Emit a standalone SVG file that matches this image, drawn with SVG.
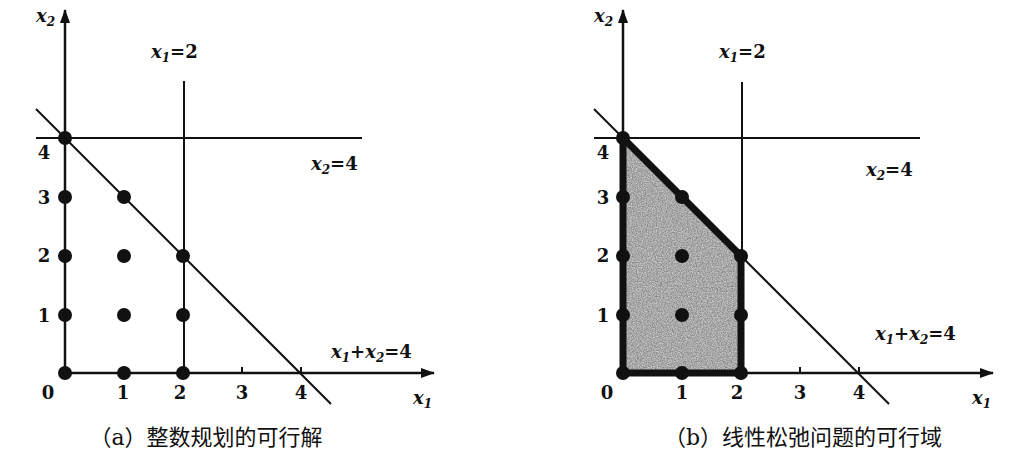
<svg xmlns="http://www.w3.org/2000/svg" width="1024" height="456" viewBox="0 0 1024 456">
<defs>
<marker id="arr" markerWidth="14" markerHeight="10" refX="13" refY="5" orient="auto" markerUnits="userSpaceOnUse">
<path d="M0,0 L14,5 L0,10 Z" fill="#111"/>
</marker>
<filter id="grain" x="0" y="0" width="1" height="1"><feTurbulence type="fractalNoise" baseFrequency="0.8" numOctaves="2" seed="3" result="n"/><feColorMatrix in="n" type="matrix" values="0 0 0 0 0  0 0 0 0 0  0 0 0 0 0  0 0 0 0.6 -0.1" result="a"/><feComposite in="a" in2="SourceGraphic" operator="in"/></filter>
</defs>
<style>
.ln{stroke:#111;stroke-width:2;fill:none}
.ax{stroke:#111;stroke-width:2.5;fill:none}
.dot{fill:#111}
.var{font-family:"DejaVu Serif","Liberation Serif",serif;font-style:italic;font-weight:bold;font-size:18px;fill:#111}
.eq{font-style:normal}
.sub{font-size:12px}
.num{font-family:"DejaVu Serif","Liberation Serif",serif;font-weight:bold;font-size:18px;fill:#111}
.cap{font-family:"DejaVu Serif","Noto Sans CJK SC",serif;font-size:22px;fill:#111}
</style>
<rect width="1024" height="456" fill="#fff"/>
<g id="connectors">
<line class="ax" x1="65" y1="373" x2="65" y2="10" marker-end="url(#arr)"/>
<line class="ax" x1="65" y1="373" x2="434" y2="373" marker-end="url(#arr)"/>
<line class="ln" x1="36" y1="138" x2="362" y2="138"/>
<line class="ln" x1="184" y1="81" x2="184" y2="373"/>
<line class="ln" x1="36" y1="109" x2="331" y2="404"/>
<line class="ln" x1="242" y1="373" x2="242" y2="367"/>
<line class="ln" x1="301" y1="373" x2="301" y2="367"/>
<polygon points="623,138 741,256 741,373 623,373" fill="#d2d2d2"/>
<polygon points="623,138 741,256 741,373 623,373" fill="#888" filter="url(#grain)"/>
<line class="ax" x1="623" y1="373" x2="623" y2="10" marker-end="url(#arr)"/>
<line class="ax" x1="623" y1="373" x2="993" y2="373" marker-end="url(#arr)"/>
<line class="ln" x1="594" y1="138" x2="920" y2="138"/>
<line class="ln" x1="742" y1="82" x2="742" y2="373"/>
<line class="ln" x1="594" y1="109" x2="889" y2="404"/>
<line class="ln" x1="800" y1="373" x2="800" y2="367"/>
<line class="ln" x1="859" y1="373" x2="859" y2="367"/>
<polygon points="623,138 741,256 741,373 623,373" fill="none" stroke="#111" stroke-width="7" stroke-linejoin="round"/>
</g>
<g id="dots-a">
<circle class="dot" cx="65" cy="138" r="7"/>
<circle class="dot" cx="65" cy="197" r="7"/><circle class="dot" cx="124" cy="197" r="7"/>
<circle class="dot" cx="65" cy="256" r="7"/><circle class="dot" cx="124" cy="256" r="7"/><circle class="dot" cx="183" cy="256" r="7"/>
<circle class="dot" cx="65" cy="315" r="7"/><circle class="dot" cx="124" cy="315" r="7"/><circle class="dot" cx="183" cy="315" r="7"/>
<circle class="dot" cx="65" cy="373" r="7"/><circle class="dot" cx="124" cy="373" r="7"/><circle class="dot" cx="183" cy="373" r="7"/>
</g>
<g id="dots-b">
<circle class="dot" cx="623" cy="138" r="7"/>
<circle class="dot" cx="623" cy="197" r="7"/><circle class="dot" cx="682" cy="197" r="7"/>
<circle class="dot" cx="623" cy="256" r="7"/><circle class="dot" cx="682" cy="256" r="7"/><circle class="dot" cx="741" cy="256" r="7"/>
<circle class="dot" cx="623" cy="315" r="7"/><circle class="dot" cx="682" cy="315" r="7"/><circle class="dot" cx="741" cy="315" r="7"/>
<circle class="dot" cx="623" cy="373" r="7"/><circle class="dot" cx="682" cy="373" r="7"/><circle class="dot" cx="741" cy="373" r="7"/>
</g>
<g id="labels-a">
<text class="var" x="36" y="22">x<tspan class="sub" dy="4">2</tspan></text>
<text class="var" x="151" y="58">x<tspan class="sub" dy="4">1</tspan><tspan class="eq" dy="-4">=2</tspan></text>
<text class="var" x="311" y="170">x<tspan class="sub" dy="4">2</tspan><tspan class="eq" dy="-4">=4</tspan></text>
<text class="var" x="331" y="358">x<tspan class="sub" dy="4">1</tspan><tspan class="eq" dy="-4">+</tspan>x<tspan class="sub" dy="4">2</tspan><tspan class="eq" dy="-4">=4</tspan></text>
<text class="var" x="413" y="404">x<tspan class="sub" dy="4">1</tspan></text>
<text class="num" x="44" y="159" text-anchor="middle">4</text>
<text class="num" x="44" y="204" text-anchor="middle">3</text>
<text class="num" x="44" y="262" text-anchor="middle">2</text>
<text class="num" x="44" y="322" text-anchor="middle">1</text>
<text class="num" x="48" y="399" text-anchor="middle">0</text>
<text class="num" x="123" y="399" text-anchor="middle">1</text>
<text class="num" x="180" y="399" text-anchor="middle">2</text>
<text class="num" x="242" y="399" text-anchor="middle">3</text>
<text class="num" x="301" y="399" text-anchor="middle">4</text>
<text class="cap" x="206" y="445" text-anchor="middle">（a）整数规划的可行解</text>
</g>
<g id="labels-b">
<text class="var" x="594" y="22">x<tspan class="sub" dy="4">2</tspan></text>
<text class="var" x="719" y="58">x<tspan class="sub" dy="4">1</tspan><tspan class="eq" dy="-4">=2</tspan></text>
<text class="var" x="866" y="176">x<tspan class="sub" dy="4">2</tspan><tspan class="eq" dy="-4">=4</tspan></text>
<text class="var" x="875" y="340">x<tspan class="sub" dy="4">1</tspan><tspan class="eq" dy="-4">+</tspan>x<tspan class="sub" dy="4">2</tspan><tspan class="eq" dy="-4">=4</tspan></text>
<text class="var" x="972" y="404">x<tspan class="sub" dy="4">1</tspan></text>
<text class="num" x="603" y="159" text-anchor="middle">4</text>
<text class="num" x="603" y="204" text-anchor="middle">3</text>
<text class="num" x="603" y="262" text-anchor="middle">2</text>
<text class="num" x="603" y="322" text-anchor="middle">1</text>
<text class="num" x="607" y="399" text-anchor="middle">0</text>
<text class="num" x="682" y="399" text-anchor="middle">1</text>
<text class="num" x="737" y="399" text-anchor="middle">2</text>
<text class="num" x="800" y="399" text-anchor="middle">3</text>
<text class="num" x="859" y="399" text-anchor="middle">4</text>
<text class="cap" x="803" y="445" text-anchor="middle">（b）线性松弛问题的可行域</text>
</g>
</svg>
